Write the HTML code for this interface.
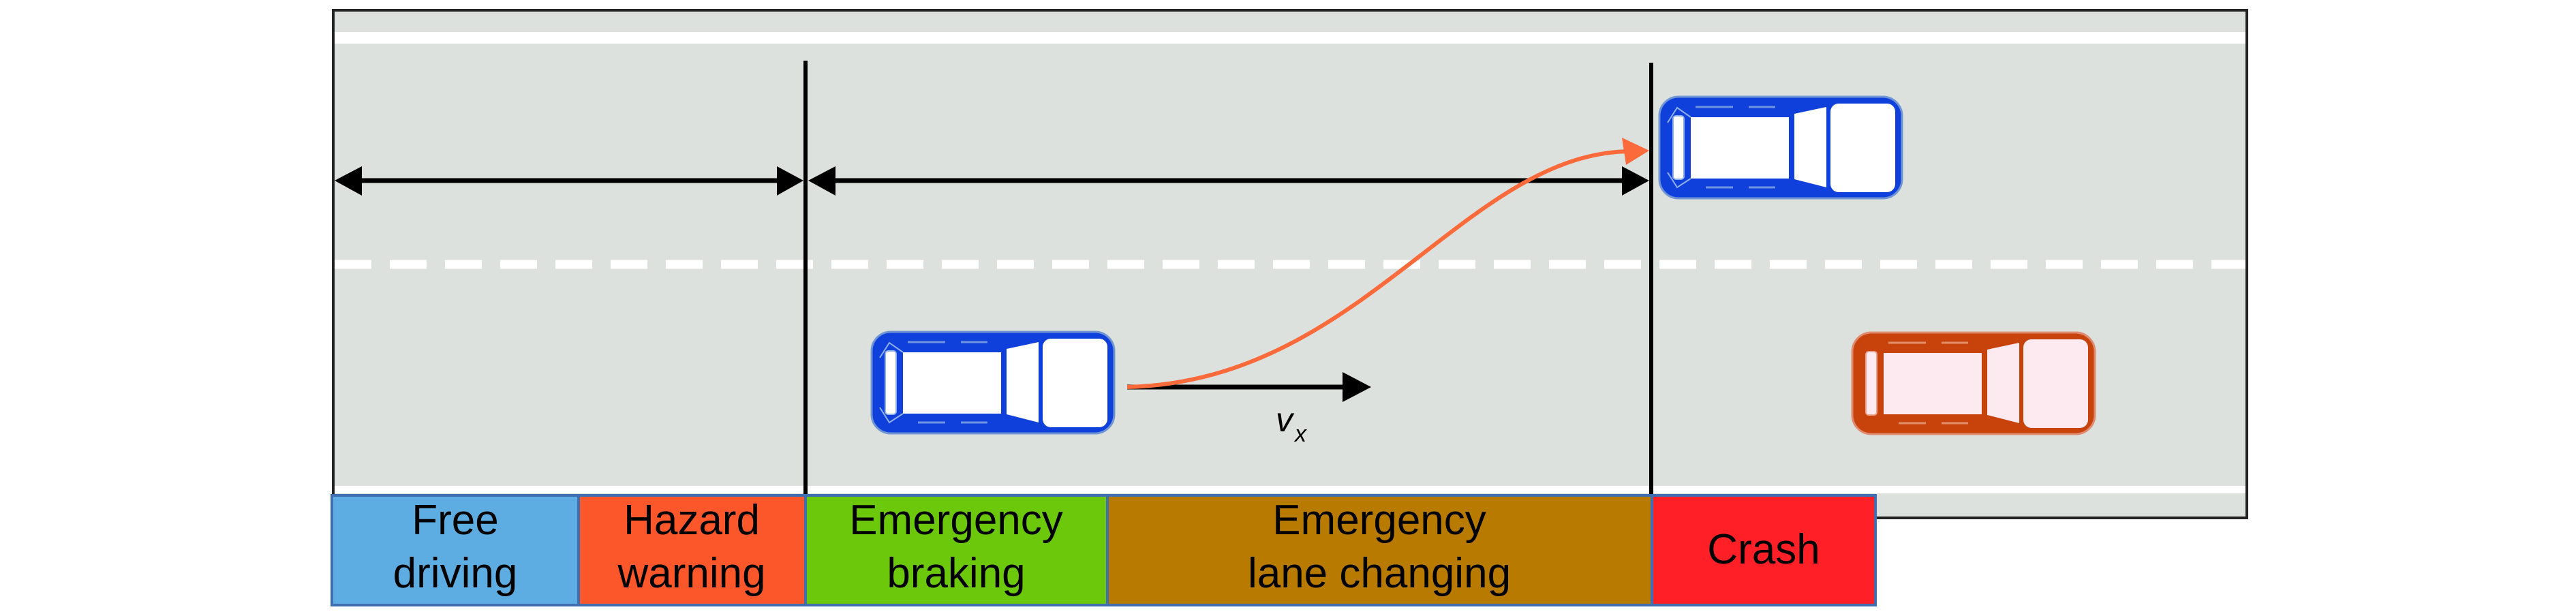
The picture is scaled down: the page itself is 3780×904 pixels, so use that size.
<!DOCTYPE html>
<html><head><meta charset="utf-8"><style>
html,body{margin:0;padding:0;background:#fff;}
svg{display:block;}
text{font-family:"Liberation Sans",Arial,sans-serif;}
</style></head><body>
<svg width="3780" height="904" viewBox="0 0 3780 904" xmlns="http://www.w3.org/2000/svg">
<defs>
<g id="carB">
  <rect x="2" y="2" width="356" height="149" rx="28" fill="#1040dc" stroke="#6f95d4" stroke-width="3"/>
  <rect x="253" y="12" width="95" height="130" rx="12" fill="#fff"/>
  <polygon points="200,27 247,17 247,135 200,123" fill="#fff"/>
  <rect x="48" y="32" width="144" height="90" fill="#fff"/>
  <rect x="22" y="30" width="16" height="93" rx="4" fill="#fff" stroke="#8fb0e8" stroke-width="2"/>
  <path d="M14,40 L28,18 L48,32 M14,113 L28,135 L48,122" fill="none" stroke="#8fb0e8" stroke-width="2"/>
  <path d="M55,17 H110 M133,17 H172 M70,135 H110 M133,135 H172" stroke="#6f95e0" stroke-width="3"/>
</g>
<g id="carR">
  <rect x="2" y="2" width="356" height="149" rx="28" fill="#c8420c" stroke="#e08a70" stroke-width="3"/>
  <rect x="253" y="12" width="95" height="130" rx="12" fill="#fdeaf0"/>
  <polygon points="200,27 247,17 247,135 200,123" fill="#fdeaf0"/>
  <rect x="48" y="32" width="144" height="90" fill="#fdeaf0"/>
  <rect x="22" y="30" width="16" height="93" rx="4" fill="#fdeaf0" stroke="#e8a590" stroke-width="2"/>
  <path d="M55,17 H110 M133,17 H172 M70,135 H110 M133,135 H172" stroke="#e0906a" stroke-width="3"/>
</g>
</defs>

<!-- road -->
<rect x="489" y="15" width="2808" height="745" fill="#dde1dd" stroke="#222" stroke-width="4"/>
<rect x="491" y="47" width="2804" height="17" fill="#fff"/>
<rect x="491" y="713" width="2804" height="11" fill="#fff"/>
<line x1="491" y1="388" x2="3295" y2="388" stroke="#fff" stroke-width="13" stroke-dasharray="54 27"/>

<!-- vertical lines -->
<line x1="1182" y1="89" x2="1182" y2="726" stroke="#000" stroke-width="6"/>
<line x1="2423" y1="92" x2="2423" y2="726" stroke="#000" stroke-width="6"/>

<!-- dimension arrows -->
<line x1="520" y1="265" x2="1150" y2="265" stroke="#000" stroke-width="7"/>
<polygon points="491,265 531,244 531,287" fill="#000"/>
<polygon points="1179,265 1140,244 1140,287" fill="#000"/>
<line x1="1215" y1="265" x2="2390" y2="265" stroke="#000" stroke-width="7"/>
<polygon points="1186,265 1226,244 1226,287" fill="#000"/>
<polygon points="2420,265 2380,244 2380,287" fill="#000"/>

<!-- cars -->
<use href="#carB" x="1277" y="485"/>
<use href="#carB" x="2433" y="140"/>
<use href="#carR" x="2716" y="486"/>

<!-- vx arrow -->
<line x1="1654" y1="568" x2="1980" y2="568" stroke="#000" stroke-width="7"/>
<polygon points="2012,568 1970,546 1970,590" fill="#000"/>
<path d="M1654,568 C2000,560 2150,222 2395,222" fill="none" stroke="#fb6a3a" stroke-width="6"/>
<polygon points="2420,221 2380,202 2386,242" fill="#fb6a3a"/>
<text x="1872" y="633" font-size="50" font-style="italic">v</text>
<text x="1900" y="648" font-size="34" font-style="italic">x</text>

<!-- phase boxes -->
<g stroke="#3f6fb0" stroke-width="4">
<rect x="487" y="727" width="362" height="161" fill="#5dade2"/>
<rect x="849" y="727" width="333" height="161" fill="#fc572b"/>
<rect x="1182" y="727" width="443" height="161" fill="#6cc80a"/>
<rect x="1625" y="727" width="799" height="161" fill="#b97a00"/>
<rect x="2424" y="727" width="328" height="161" fill="#fe2026"/>
</g>
<g font-size="62" text-anchor="middle" fill="#000">
<text x="668" y="784">Free</text><text x="668" y="862">driving</text>
<text x="1015" y="784">Hazard</text><text x="1015" y="862">warning</text>
<text x="1403" y="784">Emergency</text><text x="1403" y="862">braking</text>
<text x="2024" y="784">Emergency</text><text x="2024" y="862">lane changing</text>
<text x="2588" y="827">Crash</text>
</g>
</svg>
</body></html>
